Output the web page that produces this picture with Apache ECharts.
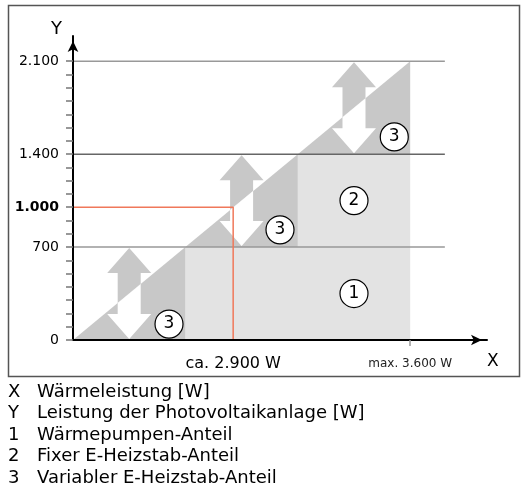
<!DOCTYPE html>
<html>
<head>
<meta charset="utf-8">
<script src="https://cdn.jsdelivr.net/npm/echarts@6/dist/echarts.min.js"></script>
<style>
  html, body { margin: 0; padding: 0; background: #fff; }
  #main { width: 530px; height: 500px; }
</style>
</head>
<body>
<div id="main"></div>
<script>
// Stufen: Y-Werte und X-Werte, an denen die Diagonale die Stufe erreicht
var stepLevels = [0, 700, 1400, 2100];
var stepX = [0, 1200, 2400, 3600];
// Doppelpfeile (Mitte jeder Stufe)
var arrowX = [600, 1800, 3000];
// horizontale Linien
var gridLevels = [2100, 1400, 700];
var gridEndX = 3970;
// roter Arbeitspunkt
var redPoint = [1710, 1000];
// Achsbeschriftungen
var yTickLabels = [0, 700, 1000, 1400, 2100];
var xLabelValues = [1710, 3600];
var xLabelTexts = ['ca. 2.900 W', 'max. 3.600 W'];
// Kreis-Markierungen [x, y, Nummer]
var markers = [
  [1025, 120, '3'],
  [2210, 830, '3'],
  [3430, 1530, '3'],
  [3000, 350, '1'],
  [3000, 1050, '2']
];
// Legende unter dem Diagramm
var legendKeys = ['X', 'Y', '1', '2', '3'];
var legendTexts = [
  'Wärmeleistung [W]',
  'Leistung der Photovoltaikanlage [W]',
  'Wärmepumpen-Anteil',
  'Fixer E-Heizstab-Anteil',
  'Variabler E-Heizstab-Anteil'
];

var FONT = 'DejaVu Sans';

function fmt(v) {
  return String(v).replace(/\B(?=(\d{3})+(?!\d))/g, '.');
}

// Polygon an einer Geraden A-B abschneiden (Sutherland-Hodgman)
function clip(poly, A, B) {
  var f = function (p) {
    return (B[0] - A[0]) * (p[1] - A[1]) - (B[1] - A[1]) * (p[0] - A[0]);
  };
  var out = [];
  for (var i = 0; i < poly.length; i++) {
    var P = poly[i], Q = poly[(i + 1) % poly.length];
    var fp = f(P), fq = f(Q);
    if (fp >= 0) out.push(P);
    if ((fp >= 0) !== (fq >= 0)) {
      var t = fp / (fp - fq);
      out.push([P[0] + t * (Q[0] - P[0]), P[1] + t * (Q[1] - P[1])]);
    }
  }
  return out;
}

var yTicks = [];
for (var v = 0; v <= 2100; v += 100) yTicks.push(v);

var lightData = [];
for (var i = 1; i < stepLevels.length - 1; i++) {
  lightData.push([stepX[i], stepLevels[i - 1], stepX[stepX.length - 1], stepLevels[i]]);
}
var triData = [];
for (var i = 0; i < stepLevels.length - 1; i++) {
  triData.push([stepX[i], stepLevels[i], stepX[i + 1], stepLevels[i + 1]]);
}
var arrowData = arrowX.map(function (x, i) {
  return [x, stepLevels[i], stepLevels[i + 1]];
});

var graphics = [{
  type: 'rect',
  shape: { x: 8.5, y: 5.5, width: 511, height: 371 },
  style: { fill: 'none', stroke: '#555', lineWidth: 1.5 },
  silent: true
}];
legendKeys.forEach(function (k, i) {
  var y = 392 + i * 21.5;
  graphics.push({
    type: 'text', x: 8, y: y,
    style: { text: k, fontFamily: FONT, fontSize: 18, fill: '#000', verticalAlign: 'middle' }
  });
  graphics.push({
    type: 'text', x: 37, y: y,
    style: { text: legendTexts[i], fontFamily: FONT, fontSize: 18, fill: '#000', verticalAlign: 'middle' }
  });
});

var myChart = echarts.init(document.getElementById('main'));
myChart.setOption({
  animation: false,
  backgroundColor: '#fff',
  textStyle: { fontFamily: FONT },
  grid: { left: 73, right: 43, top: 36, bottom: 160 },
  xAxis: {
    type: 'value', min: 0, max: 4420, z: 10,
    name: 'X', nameLocation: 'end', nameGap: 0,
    nameTextStyle: { fontSize: 17, color: '#000', align: 'left', verticalAlign: 'top', padding: [13, 0, 0, 0] },
    axisLine: { lineStyle: { color: '#000', width: 2 }, symbol: ['none', 'arrow'], symbolSize: [8, 11], symbolOffset: [0, -5] },
    axisTick: { customValues: [3600], length: 6, lineStyle: { color: '#999', width: 1.5 } },
    axisLabel: {
      customValues: xLabelValues, margin: 14, color: '#000',
      formatter: function (v) {
        var i = xLabelValues.indexOf(v);
        return i === 0 ? '{a|' + xLabelTexts[0] + '}' : '{m|' + xLabelTexts[1] + '}';
      },
      rich: {
        a: { fontSize: 16, lineHeight: 20, color: '#000' },
        m: { fontSize: 12, lineHeight: 20, color: '#222' }
      }
    },
    splitLine: { show: false }
  },
  yAxis: {
    type: 'value', min: 0, max: 2290, z: 10,
    name: 'Y', nameLocation: 'end', nameGap: -2,
    nameTextStyle: { fontSize: 18, color: '#000', align: 'right', verticalAlign: 'bottom', padding: [0, 11, 0, 0] },
    axisLine: { lineStyle: { color: '#000', width: 2 }, symbol: ['none', 'arrow'], symbolSize: [8, 11], symbolOffset: [0, -5] },
    axisTick: { customValues: yTicks, length: 7, lineStyle: { color: '#777', width: 1.5 } },
    axisLabel: {
      customValues: yTickLabels, margin: 14, fontSize: 14, color: '#000',
      formatter: function (v) {
        return v === 1000 ? '{b|' + fmt(v) + '}' : fmt(v);
      },
      rich: { b: { fontSize: 14, fontWeight: 'bold', color: '#000' } }
    },
    splitLine: { show: false }
  },
  graphic: graphics,
  series: [
    {
      name: 'Wärmepumpe/Fix',
      type: 'custom', z: 1, silent: true,
      data: lightData,
      renderItem: function (params, api) {
        var p0 = api.coord([api.value(0), api.value(1)]);
        var p1 = api.coord([api.value(2), api.value(3)]);
        return {
          type: 'rect',
          shape: { x: p0[0], y: p1[1], width: p1[0] - p0[0], height: p0[1] - p1[1] },
          style: { fill: '#e3e3e3' }
        };
      }
    },
    {
      name: 'Variabel',
      type: 'custom', z: 1, silent: true,
      data: triData,
      renderItem: function (params, api) {
        var a = api.coord([api.value(0), api.value(1)]);
        var b = api.coord([api.value(2), api.value(3)]);
        var c = api.coord([api.value(2), api.value(1)]);
        return { type: 'polygon', shape: { points: [a, b, c] }, style: { fill: '#c8c8c8' } };
      }
    },
    {
      name: 'Pfeile',
      type: 'custom', z: 2, silent: true,
      data: arrowData,
      renderItem: function (params, api) {
        var cx = api.coord([api.value(0), 0])[0];
        var yb = api.coord([0, api.value(1)])[1] - 1;
        var yt = api.coord([0, api.value(2)])[1] + 1;
        var hw = 22, sw = 11.5, hh = 25;
        var poly = [
          [cx, yt], [cx + hw, yt + hh], [cx + sw, yt + hh], [cx + sw, yb - hh], [cx + hw, yb - hh],
          [cx, yb], [cx - hw, yb - hh], [cx - sw, yb - hh], [cx - sw, yt + hh], [cx - hw, yt + hh]
        ];
        var A = api.coord([stepX[0], stepLevels[0]]);
        var B = api.coord([stepX[stepX.length - 1], stepLevels[stepLevels.length - 1]]);
        return {
          type: 'group',
          children: [
            { type: 'polygon', shape: { points: clip(poly, B, A) }, style: { fill: '#c8c8c8' } },
            { type: 'polygon', shape: { points: clip(poly, A, B) }, style: { fill: '#fff' } }
          ]
        };
      }
    },
    {
      name: 'Linien',
      type: 'custom', z: 3, silent: true,
      data: gridLevels,
      renderItem: function (params, api) {
        var p0 = api.coord([0, api.value(0)]);
        var p1 = api.coord([gridEndX, api.value(0)]);
        return {
          type: 'line',
          shape: { x1: p0[0], y1: p0[1], x2: p1[0], y2: p1[1] },
          style: { stroke: api.value(0) === 1400 ? '#666' : '#999', lineWidth: 1.5 }
        };
      }
    },
    {
      name: 'Arbeitspunkt',
      type: 'line', z: 4, silent: true,
      symbol: 'none',
      data: [[0, redPoint[1]], redPoint, [redPoint[0], 0]],
      lineStyle: { color: '#f0785a', width: 1.5 }
    },
    {
      name: 'Markierungen',
      type: 'scatter', z: 5, silent: true,
      symbol: 'circle', symbolSize: 28,
      data: markers,
      itemStyle: { color: '#fff', borderColor: '#000', borderWidth: 1.2, opacity: 1 },
      label: {
        show: true, position: 'inside', fontSize: 17, color: '#000',
        formatter: function (p) { return p.value[2]; }
      }
    }
  ]
});
</script>
</body>
</html>
